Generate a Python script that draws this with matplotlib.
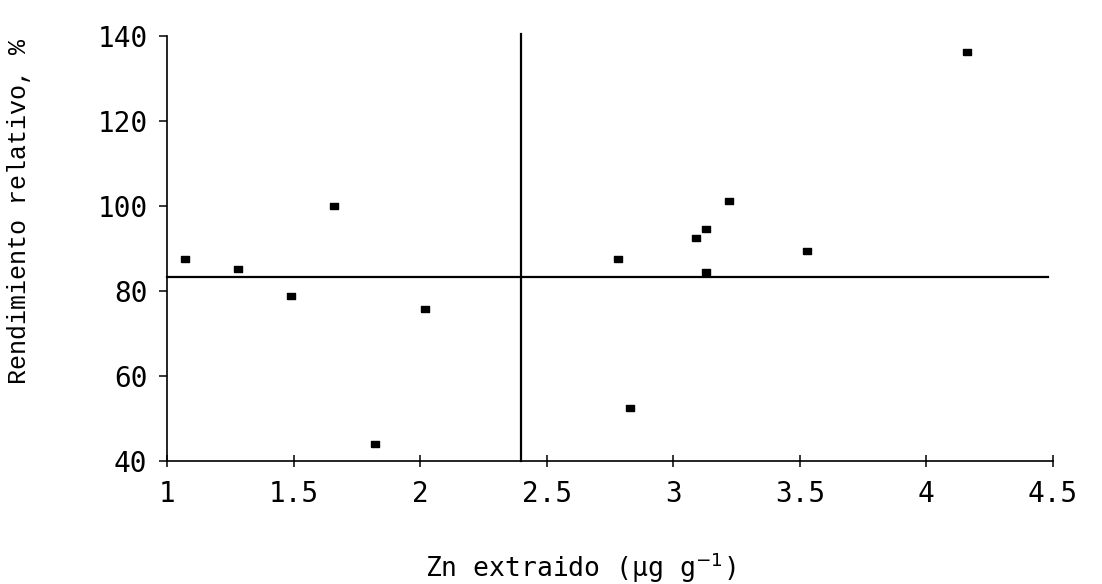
import matplotlib
matplotlib.use("Agg")
import matplotlib.pyplot as plt

# Data
zn_extraido = [1.07, 1.28, 1.49, 1.66, 1.82, 2.02, 2.78, 2.83, 3.09, 3.13, 3.13, 3.22, 3.53, 4.16]
rendimiento = [87.5, 85.1, 78.9, 100.1, 43.9, 75.7, 87.5, 52.5, 92.5, 94.5, 84.4, 101.2, 89.5, 136.2]
nivel_critico_x = 2.40
nivel_critico_y = 83.4
x_ticks = [1, 1.5, 2, 2.5, 3, 3.5, 4, 4.5]
x_tick_labels = ["1", "1.5", "2", "2.5", "3", "3.5", "4", "4.5"]
y_ticks = [40, 60, 80, 100, 120, 140]
y_tick_labels = ["40", "60", "80", "100", "120", "140"]

fig = plt.figure(figsize=(11.02, 5.84), dpi=100)
ax = fig.add_axes([167 / 1102, 1 - 461 / 584, (1053 - 167) / 1102, (461 - 36) / 584])

ax.set_xlim(1, 4.5)
ax.set_ylim(40, 140)

rect_marker = [(-1.8, -1.05), (1.8, -1.05), (1.8, 1.05), (-1.8, 1.05), (-1.8, -1.05)]
ax.plot(zn_extraido, rendimiento, linestyle="none", marker=rect_marker,
        markersize=6.2, color="black", clip_on=False)

ax.plot([1, 4.48], [nivel_critico_y, nivel_critico_y], color="black", lw=1.6, clip_on=False)
ax.plot([nivel_critico_x, nivel_critico_x], [40, 140.5], color="black", lw=1.6, clip_on=False)

for s in ["top", "right"]:
    ax.spines[s].set_visible(False)
for s in ["left", "bottom"]:
    ax.spines[s].set_linewidth(1.2)

mono = "DejaVu Sans Mono"
ax.set_xticks(x_ticks)
ax.set_xticklabels(x_tick_labels, fontfamily=mono, fontsize=20)
ax.set_yticks(y_ticks)
ax.set_yticklabels(y_tick_labels, fontfamily=mono, fontsize=20)
ax.tick_params(axis="x", direction="inout", length=9, width=1.1, pad=9)
ax.tick_params(axis="y", direction="out", length=6, width=1.1, pad=8)

ax.set_ylabel("Rendimiento relativo, %", fontfamily="Liberation Mono", fontsize=18)
ax.yaxis.set_label_coords(-0.167, 0.586)
ax.yaxis.label.set_va("center")
ax.set_xlabel(r"Zn extraido (µg g$^{-1}$)", fontfamily=mono, fontsize=19)
ax.xaxis.set_label_coords(0.466, -0.252)
ax.xaxis.label.set_va("center")

fig.savefig("out.png", dpi=100, facecolor="white")
